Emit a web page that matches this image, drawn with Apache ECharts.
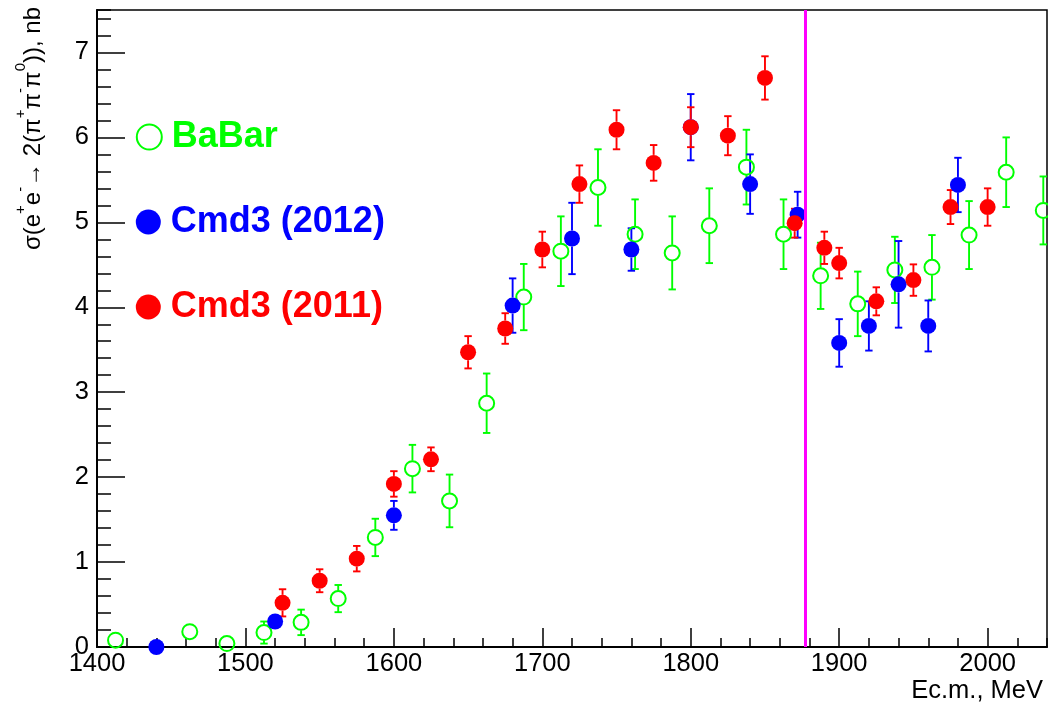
<!DOCTYPE html>
<html>
<head>
<meta charset="utf-8">
<script src="https://cdn.jsdelivr.net/npm/echarts@6/dist/echarts.min.js"></script>
<style>
  html, body { margin: 0; padding: 0; background: #fff; }
  #chart { width: 1048px; height: 706px; }
</style>
</head>
<body>
<div id="chart"></div>
<script>
// e+e- -> 2(pi+ pi- pi0) cross section, nb, versus c.m. energy, MeV

// BaBar
const babarE   = [1412.5, 1437.5, 1462.5, 1487.5, 1512.5, 1537.5, 1562.5, 1587.5, 1612.5, 1637.5, 1662.5, 1687.5, 1712.5,
                  1737.5, 1762.5, 1787.5, 1812.5, 1837.5, 1862.5, 1887.5, 1912.5, 1937.5, 1962.5, 1987.5, 2012.5, 2037.5];
const babarSig = [0.08, -0.01, 0.18, 0.04, 0.17, 0.29, 0.57, 1.29, 2.10, 1.72, 2.87, 4.12, 4.66,
                  5.41, 4.86, 4.64, 4.96, 5.65, 4.86, 4.37, 4.04, 4.44, 4.47, 4.85, 5.59, 5.14];
const babarErr = [0.05, 0.03, 0.06, 0.05, 0.13, 0.15, 0.16, 0.22, 0.28, 0.31, 0.35, 0.39, 0.41,
                  0.45, 0.41, 0.43, 0.44, 0.44, 0.41, 0.39, 0.38, 0.39, 0.38, 0.40, 0.41, 0.40];

// CMD-3, 2012 run
const cmd12E   = [1440, 1520, 1600, 1680, 1720, 1760, 1800, 1840, 1872, 1900, 1920, 1940, 1960, 1980];
const cmd12Sig = [0.00, 0.30, 1.55, 4.02, 4.81, 4.68, 6.12, 5.45, 5.09, 3.58, 3.78, 4.27, 3.78, 5.44];
const cmd12Err = [0.03, 0.05, 0.17, 0.32, 0.42, 0.25, 0.39, 0.35, 0.27, 0.28, 0.29, 0.51, 0.30, 0.32];

// CMD-3, 2011 run
const cmd11E   = [1525, 1550, 1575, 1600, 1625, 1650, 1675, 1700, 1725, 1750, 1775, 1800, 1825, 1850,
                  1870, 1890, 1900, 1925, 1950, 1975, 2000];
const cmd11Sig = [0.52, 0.78, 1.04, 1.92, 2.21, 3.47, 3.75, 4.68, 5.45, 6.09, 5.70, 6.12, 6.02, 6.70,
                  4.99, 4.70, 4.52, 4.07, 4.32, 5.18, 5.18];
const cmd11Err = [0.16, 0.135, 0.15, 0.15, 0.14, 0.19, 0.18, 0.21, 0.22, 0.23, 0.21, 0.235, 0.23, 0.255,
                  0.17, 0.19, 0.18, 0.165, 0.185, 0.20, 0.22];

// nucleon-antinucleon threshold
const thresholdE = 1877;

const xTickLabels = ['1400', '1500', '1600', '1700', '1800', '1900', '2000'];
const yTickLabels = ['0', '1', '2', '3', '4', '5', '6', '7'];

const FONT = 'Liberation Sans';
const GREEN = '#00ff00', BLUE = '#0000ff', RED = '#ff0000', MAGENTA = '#ff00ff';

function rows(e, v, err) { return e.map((x, i) => [x, v[i], err[i]]); }

// vertical error bars with end caps; the bar leaves a gap round the marker
function errorBars(color) {
  const gap = 8, cap = 3.7;
  return function (params, api) {
    const x = api.value(0), y = api.value(1), e = api.value(2);
    const c = api.coord([x, y]);
    const hi = api.coord([x, y + e])[1];
    const lo = api.coord([x, y - e])[1];
    const style = { stroke: color, lineWidth: 1.9 };
    const kids = [];
    if (c[1] - gap > hi) {
      kids.push({ type: 'line', shape: { x1: c[0], y1: hi, x2: c[0], y2: c[1] - gap }, style });
      kids.push({ type: 'line', shape: { x1: c[0] - cap, y1: hi, x2: c[0] + cap, y2: hi }, style });
    }
    if (lo > c[1] + gap) {
      kids.push({ type: 'line', shape: { x1: c[0], y1: c[1] + gap, x2: c[0], y2: lo }, style });
      kids.push({ type: 'line', shape: { x1: c[0] - cap, y1: lo, x2: c[0] + cap, y2: lo }, style });
    }
    return { type: 'group', children: kids };
  };
}

const chart = echarts.init(document.getElementById('chart'), null, { renderer: 'canvas' });

function legendFor(name, color, fill, top) {
  return {
    orient: 'vertical', left: 135.8, top: top, padding: 0, itemWidth: 35, itemHeight: 25, itemGap: 0,
    selectedMode: false,
    data: [{ name: name, icon: 'circle',
             itemStyle: { color: fill, borderColor: color, borderWidth: fill === color ? 0 : 2 } }],
    textStyle: { color: color, fontSize: 36, fontWeight: 'bold', fontFamily: FONT, padding: [6, 0, 0, 0] }
  };
}

const yTitle = '{a|σ(e}{s|+}{a|e}{s|-}{a|→ 2(π}{s|+}{a|π}{s|-}{a|π}{s|0}{a|)), nb}';

chart.setOption({
  animation: false,
  backgroundColor: '#fff',
  textStyle: { fontFamily: FONT },
  grid: { left: 97, top: 10, width: 950, height: 637, show: true, borderColor: '#000', borderWidth: 1.5 },
  legend: [
    legendFor('BaBar', GREEN, 'rgba(0,0,0,0)', 119),
    legendFor('Cmd3 (2012)', BLUE, BLUE, 204),
    legendFor('Cmd3 (2011)', RED, RED, 289)
  ],
  xAxis: [
    { type: 'value', min: 1400, max: 2040, interval: 20,
      axisLine: { show: false }, axisLabel: { show: false }, splitLine: { show: false },
      axisTick: { inside: true, length: 9, lineStyle: { color: '#000', width: 1.5 } } },
    { type: 'value', min: 1400, max: 2040, interval: 100, position: 'bottom',
      axisLine: { show: true, onZero: false, lineStyle: { color: '#000', width: 2 } },
      axisTick: { inside: true, length: 19, lineStyle: { color: '#000', width: 1.5 } },
      axisLabel: { color: '#000', fontSize: 25.5, fontFamily: FONT, margin: 4, showMaxLabel: false,
                   formatter: v => xTickLabels[Math.round((v - 1400) / 100)] || '' },
      splitLine: { show: false } }
  ],
  yAxis: [
    { type: 'value', min: 0, max: 7.5, interval: 0.2,
      axisLine: { show: false }, axisLabel: { show: false }, splitLine: { show: false },
      axisTick: { inside: true, length: 14, lineStyle: { color: '#000', width: 1.5 } } },
    { type: 'value', min: 0, max: 7.5, interval: 1, position: 'left',
      axisLine: { show: true, onZero: false, lineStyle: { color: '#000', width: 2 } },
      axisTick: { inside: true, length: 28, lineStyle: { color: '#000', width: 1.5 } },
      axisLabel: { color: '#000', fontSize: 25.5, fontFamily: FONT, margin: 8, showMaxLabel: false,
                   formatter: v => yTickLabels[Math.round(v)] || '' },
      splitLine: { show: false } }
  ],
  graphic: [
    { type: 'text', x: 33, y: 7, rotation: Math.PI / 2, silent: true,
      style: {
        text: yTitle, align: 'right', verticalAlign: 'middle', fill: '#000',
        fontFamily: FONT, fontSize: 24,
        rich: {
          a: { fontFamily: FONT, fontSize: 24, lineHeight: 40, fill: '#000', verticalAlign: 'middle' },
          s: { fontFamily: FONT, fontSize: 15, lineHeight: 12, fill: '#000', verticalAlign: 'top' }
        }
      } },
    { type: 'text', x: 1043, y: 691, silent: true,
      style: { text: 'Ec.m., MeV', align: 'right', verticalAlign: 'middle', fill: '#000',
               fontFamily: FONT, fontSize: 25.5 } }
  ],
  series: [
    { name: 'BaBar errors', type: 'custom', xAxisIndex: 0, yAxisIndex: 0, silent: true,
      renderItem: errorBars(GREEN), data: rows(babarE, babarSig, babarErr), encode: { x: 0, y: 1 } },
    { name: 'BaBar', type: 'scatter', xAxisIndex: 0, yAxisIndex: 0, symbol: 'circle', symbolSize: 15,
      itemStyle: { color: 'rgba(0,0,0,0)', borderColor: GREEN, borderWidth: 2, opacity: 1 },
      data: rows(babarE, babarSig, babarErr) },
    { name: 'Cmd3 (2012) errors', type: 'custom', xAxisIndex: 0, yAxisIndex: 0, silent: true,
      renderItem: errorBars(BLUE), data: rows(cmd12E, cmd12Sig, cmd12Err), encode: { x: 0, y: 1 } },
    { name: 'Cmd3 (2012)', type: 'scatter', xAxisIndex: 0, yAxisIndex: 0, symbol: 'circle', symbolSize: 16,
      itemStyle: { color: BLUE, opacity: 1 }, data: rows(cmd12E, cmd12Sig, cmd12Err) },
    { name: 'Cmd3 (2011) errors', type: 'custom', xAxisIndex: 0, yAxisIndex: 0, silent: true,
      renderItem: errorBars(RED), data: rows(cmd11E, cmd11Sig, cmd11Err), encode: { x: 0, y: 1 } },
    { name: 'Cmd3 (2011)', type: 'scatter', xAxisIndex: 0, yAxisIndex: 0, symbol: 'circle', symbolSize: 16,
      itemStyle: { color: RED, opacity: 1 }, data: rows(cmd11E, cmd11Sig, cmd11Err) },
    { name: 'threshold', type: 'line', xAxisIndex: 0, yAxisIndex: 0, data: [], z: 10, silent: true,
      markLine: { silent: true, symbol: 'none', label: { show: false }, animation: false,
                  lineStyle: { color: MAGENTA, width: 3, type: 'solid' },
                  data: [{ xAxis: thresholdE }] } }
  ]
});
</script>
</body>
</html>
